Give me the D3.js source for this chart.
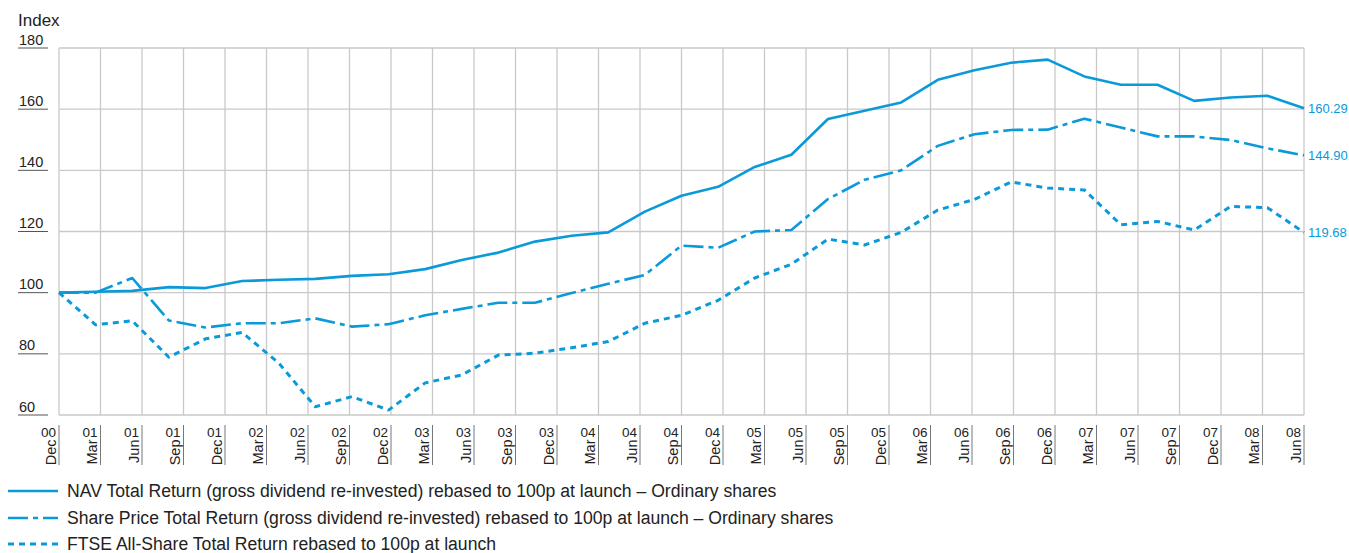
<!DOCTYPE html>
<html>
<head>
<meta charset="utf-8">
<script src="https://cdn.jsdelivr.net/npm/d3@7"></script>
<style>
  html, body { margin: 0; padding: 0; background: #fff; }
  svg { display: block; font-family: "Liberation Sans", Arial, Helvetica, sans-serif; }
</style>
</head>
<body>
<svg id="chart" width="1349" height="553"></svg>
<script>
// ---- Data ----
const tickYears  = ["00","01","01","01","01","02","02","02","02","03","03","03","03","04","04","04","04","05","05","05","05","06","06","06","06","07","07","07","07","08","08"];
const tickMonths = ["Dec","Mar","Jun","Sep","Dec","Mar","Jun","Sep","Dec","Mar","Jun","Sep","Dec","Mar","Jun","Sep","Dec","Mar","Jun","Sep","Dec","Mar","Jun","Sep","Dec","Mar","Jun","Sep","Dec","Mar","Jun"];
const yTicks = [60, 80, 100, 120, 140, 160, 180];

const navValues   = [100, 100.3, 100.6, 101.8, 101.5, 103.8, 104.2, 104.5, 105.5, 106.0, 107.7, 110.7, 113.1, 116.7, 118.6, 119.7, 126.5, 131.7, 134.6, 141.1, 145.1, 156.8, 159.5, 162.2, 169.6, 172.7, 175.2, 176.2, 170.7, 168.0, 168.0, 162.7, 163.8, 164.4, 160.29];
const shareValues = [100, 100, 104.8, 90.9, 88.6, 90.0, 90.0, 91.6, 88.9, 89.7, 92.6, 94.7, 96.7, 96.7, 99.9, 102.9, 105.8, 115.4, 114.7, 120.0, 120.5, 130.6, 136.9, 140.0, 148.0, 151.8, 153.2, 153.3, 156.9, 154.0, 151.1, 151.1, 149.9, 147.2, 144.90];
const ftseValues  = [100, 89.5, 90.8, 78.9, 84.9, 87.0, 77.0, 62.7, 66.0, 61.6, 70.5, 73.1, 79.6, 80.2, 82.0, 84.0, 90.0, 92.6, 97.5, 104.8, 109.3, 117.5, 115.6, 119.7, 127.0, 130.5, 136.2, 134.2, 133.6, 122.2, 123.3, 120.5, 128.2, 127.8, 119.68];

const seriesNames = [
  "NAV Total Return (gross dividend re-invested) rebased to 100p at launch \u2013 Ordinary shares",
  "Share Price Total Return (gross dividend re-invested) rebased to 100p at launch \u2013 Ordinary shares",
  "FTSE All-Share Total Return rebased to 100p at launch"
];
const endLabels = ["160.29", "144.90", "119.68"];

// ---- Styling ----
const BLUE = "#0a9ad9";
const GRID = "#c9c9c9";
const dashes = [null, "20,5,5,5", "6,5"];
const widths = [2.6, 2.6, 3];

const svg = d3.select("#chart");
const pLeft = 59, pRight = 1304, pTop = 48, pBottom = 415;

const x = d3.scaleLinear().domain([0, navValues.length - 1]).range([pLeft, pRight]);
const xt = d3.scalePoint().domain(d3.range(tickMonths.length)).range([pLeft, pRight]);
const y = d3.scaleLinear().domain([60, 180]).range([pBottom, pTop]);

// grid
const g = svg.append("g");
g.selectAll("line.v").data(d3.range(tickMonths.length)).join("line")
  .attr("x1", d => xt(d)).attr("x2", d => xt(d))
  .attr("y1", pTop).attr("y2", pBottom)
  .attr("stroke", GRID).attr("stroke-width", 1.3);
g.selectAll("line.h").data(yTicks).join("line")
  .attr("x1", pLeft).attr("x2", pRight)
  .attr("y1", d => y(d)).attr("y2", d => y(d))
  .attr("stroke", GRID).attr("stroke-width", 1.3);

// y axis labels with underline
svg.append("text").attr("x", 18).attr("y", 26).attr("font-size", 17).attr("fill", "#222").text("Index");
const yl = svg.append("g");
yl.selectAll("text").data(yTicks).join("text")
  .attr("x", 19).attr("y", d => y(d) - 3.5)
  .attr("font-size", 14.5).attr("fill", "#222")
  .text(d => d);
yl.selectAll("line").data(yTicks).join("line")
  .attr("x1", 18).attr("x2", 48)
  .attr("y1", d => y(d)).attr("y2", d => y(d))
  .attr("stroke", "#555").attr("stroke-width", 1);

// x axis labels
const xl = svg.append("g");
const xg = xl.selectAll("g").data(d3.range(tickMonths.length)).join("g")
  .attr("transform", d => `translate(${xt(d)},0)`);
xg.append("line").attr("x1", 0).attr("x2", 0).attr("y1", 425).attr("y2", 465)
  .attr("stroke", "#777").attr("stroke-width", 1);
xg.append("text").attr("x", -3).attr("y", 436.5).attr("text-anchor", "end")
  .attr("font-size", 13.5).attr("fill", "#222").text(d => tickYears[d]);
xg.append("text").attr("transform", "translate(-3.5,439.5) rotate(-90)")
  .attr("text-anchor", "end").attr("font-size", 14.5).attr("fill", "#222")
  .text(d => tickMonths[d]);

// lines
const line = d3.line().x((d, i) => x(i)).y(d => y(d));
const all = [navValues, shareValues, ftseValues];
all.forEach((vals, k) => {
  const p = svg.append("path").datum(vals)
    .attr("d", line).attr("fill", "none")
    .attr("stroke", BLUE).attr("stroke-width", widths[k])
    .attr("stroke-linejoin", "round");
  if (dashes[k]) p.attr("stroke-dasharray", dashes[k]);
  svg.append("text").attr("x", pRight + 4).attr("y", y(vals[vals.length - 1]) + 5)
    .attr("font-size", 13).attr("fill", BLUE).text(endLabels[k]);
});

// legend
const legY = [491, 518, 544];
seriesNames.forEach((name, k) => {
  const l = svg.append("line").attr("x1", 8).attr("x2", 58)
    .attr("y1", legY[k]).attr("y2", legY[k])
    .attr("stroke", BLUE).attr("stroke-width", widths[k]);
  if (dashes[k]) l.attr("stroke-dasharray", dashes[k]);
  svg.append("text").attr("x", 67).attr("y", legY[k] + 5.5)
    .attr("font-size", 17.6).attr("fill", "#222").text(name);
});
</script>
</body>
</html>
